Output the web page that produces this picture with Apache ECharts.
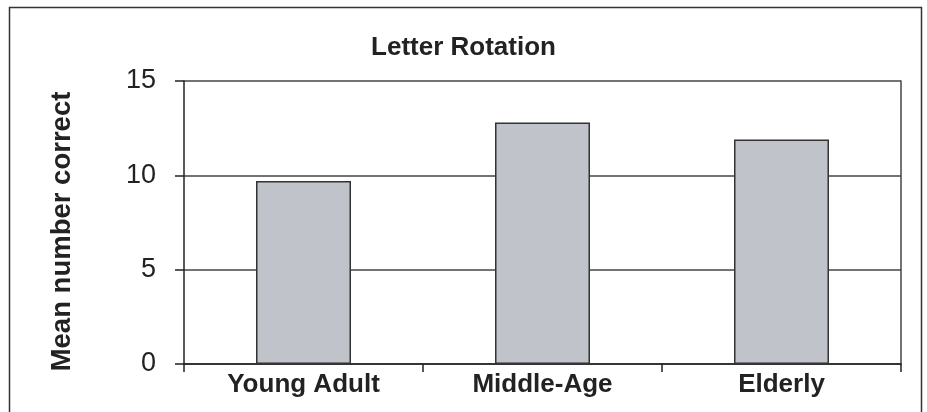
<!DOCTYPE html>
<html>
<head>
<meta charset="utf-8">
<script src="https://cdn.jsdelivr.net/npm/echarts@6/dist/echarts.min.js"></script>
<style>
  html, body { margin: 0; padding: 0; background: #fff; }
  #chart { width: 927px; height: 412px; }
</style>
</head>
<body>
<div id="chart"></div>
<script>
// data
var categories = ['Young Adult', 'Middle-Age', 'Elderly'];
var meanCorrect = [9.7, 12.8, 11.9];
var yTicks = [0, 5, 10, 15];

var font = '"Liberation Sans", Arial, sans-serif';
var myChart = echarts.init(document.getElementById('chart'));
var option = {
  animation: false,
  backgroundColor: '#fff',
  textStyle: { fontFamily: font },
  title: {
    text: 'Letter Rotation',
    left: 'center',
    top: 30,
    textStyle: { fontFamily: font, fontSize: 26, fontWeight: 'bold', color: '#222' }
  },
  graphic: [{
    type: 'rect',
    shape: { x: 9.5, y: 7.5, width: 912, height: 420 },
    style: { fill: 'none', stroke: '#333', lineWidth: 1.5 },
    silent: true
  }],
  grid: { left: 184, right: 26, top: 81, bottom: 48 },
  xAxis: {
    type: 'category',
    data: categories,
    axisLine: { lineStyle: { color: '#222', width: 1.5 } },
    axisTick: { show: true, length: 8, alignWithLabel: false, lineStyle: { color: '#222', width: 1.5 } },
    axisLabel: { margin: 8, fontFamily: font, fontSize: 26, fontWeight: 'bold', color: '#222' }
  },
  yAxis: [{
    type: 'value',
    min: yTicks[0],
    max: yTicks[yTicks.length - 1],
    interval: 5,
    name: 'Mean number correct',
    nameLocation: 'middle',
    nameRotate: 90,
    nameGap: 108,
    nameTextStyle: { fontFamily: font, fontSize: 27.5, fontWeight: 'bold', color: '#222', padding: [0, 18, 0, 0] },
    axisLine: { show: true, lineStyle: { color: '#222', width: 1.5 } },
    axisTick: { show: true, length: 9, lineStyle: { color: '#222', width: 1.5 } },
    axisLabel: { margin: 28, fontFamily: font, fontSize: 27, color: '#222' },
    splitLine: { show: true, lineStyle: { color: '#444', width: 1.5 } }
  }, {
    type: 'value',
    position: 'right',
    min: yTicks[0],
    max: yTicks[yTicks.length - 1],
    interval: 5,
    axisLine: { show: true, lineStyle: { color: '#444', width: 1.5 } },
    axisTick: { show: false },
    axisLabel: { show: false },
    splitLine: { show: false }
  }],
  series: [{
    type: 'bar',
    data: meanCorrect,
    barWidth: 95,
    itemStyle: { color: '#c1c3ca', borderColor: '#333', borderWidth: 1.5 }
  }]
};
myChart.setOption(option);
</script>
</body>
</html>
